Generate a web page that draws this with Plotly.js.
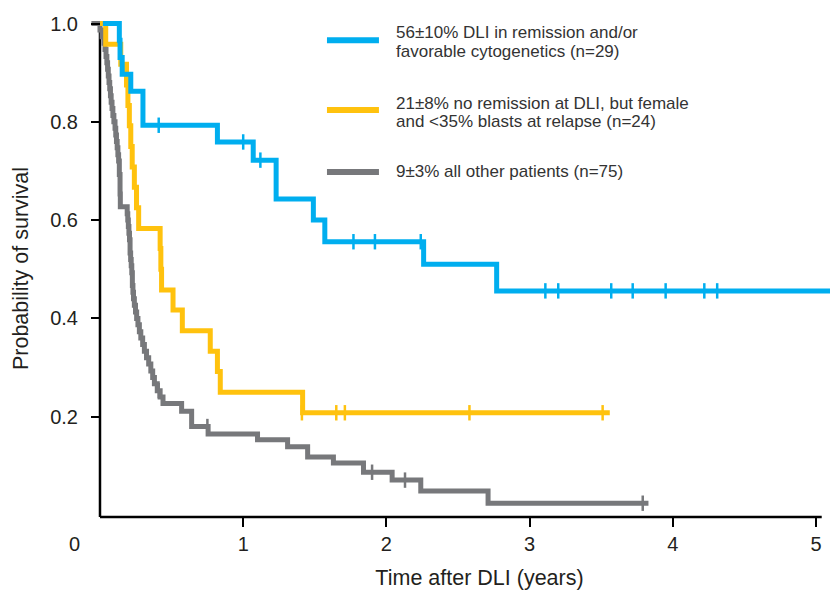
<!DOCTYPE html>
<html>
<head>
<meta charset="utf-8">
<script src="https://cdn.plot.ly/plotly-3.0.1.min.js"></script>
<style>html,body{margin:0;padding:0;background:#fff;overflow:hidden;}#chart{width:874px;height:591px;}</style>
</head>
<body>
<div id="chart"></div>
<script>
// ---- Data ----
const seriesNames = [
  "56±10% DLI in remission and/or<br>favorable cytogenetics (n=29)",
  "21±8% no remission at DLI, but female<br>and <35% blasts at relapse (n=24)",
  "9±3% all other patients (n=75)"
];
const seriesColors = ["#00AEEF", "#FFC20E", "#77787B"];

// Blue: remission and/or favorable cytogenetics
const blueTimes = [0.02, 0.135, 0.14, 0.155, 0.215, 0.30, 0.30, 0.82, 1.07, 1.23, 1.49, 1.57, 2.26, 2.77, 5.12];
const blueSurv  = [1.0, 0.966, 0.931, 0.897, 0.862, 0.828, 0.793, 0.759, 0.722, 0.643, 0.600, 0.556, 0.510, 0.456, 0.456];
const blueCensorTimes = [0.41, 1.00, 1.12, 1.77, 1.92, 2.24, 3.11, 3.20, 3.57, 3.72, 3.95, 4.22, 4.31];
const blueCensorSurv  = [0.793, 0.759, 0.722, 0.556, 0.556, 0.556, 0.456, 0.456, 0.456, 0.456, 0.456, 0.456, 0.456];

// Yellow: no remission, female, <35% blasts
const yellowTimes = [0.0, 0.04, 0.145, 0.185, 0.195, 0.205, 0.215, 0.225, 0.24, 0.255, 0.27, 0.42, 0.425, 0.43, 0.51, 0.575, 0.77, 0.82, 0.84, 1.415, 3.56];
const yellowSurv  = [1.0, 0.958, 0.917, 0.875, 0.833, 0.792, 0.75, 0.708, 0.667, 0.625, 0.583, 0.542, 0.5, 0.458, 0.417, 0.375, 0.333, 0.292, 0.25, 0.208, 0.208];
const yellowCensorTimes = [1.41, 1.65, 1.71, 2.58, 3.51];
const yellowCensorSurv  = [0.208, 0.208, 0.208, 0.208, 0.208];

// Gray: all other patients
const grayTimes = [-0.06, 0.0, 0.015, 0.028, 0.035, 0.042, 0.048, 0.053, 0.058, 0.063, 0.068, 0.073, 0.078, 0.084, 0.09, 0.097,
  0.105, 0.11, 0.115, 0.12, 0.125, 0.13, 0.135, 0.14, 0.142,
  0.19, 0.194, 0.198, 0.202, 0.206, 0.21, 0.214, 0.218, 0.222, 0.226, 0.23, 0.234, 0.24, 0.248, 0.256, 0.265, 0.275, 0.285, 0.298,
  0.31, 0.325, 0.34, 0.355, 0.368, 0.38, 0.40, 0.42, 0.44,
  0.57, 0.64, 0.755, 1.10, 1.31, 1.45, 1.63, 1.84, 2.04, 2.24, 2.71, 3.83];
const graySurv  = [1.0, 0.987, 0.973, 0.96, 0.947, 0.933, 0.92, 0.907, 0.893, 0.88, 0.867, 0.853, 0.84, 0.827, 0.813, 0.80,
  0.787, 0.773, 0.76, 0.747, 0.733, 0.72, 0.693, 0.653, 0.627,
  0.613, 0.60, 0.587, 0.573, 0.56, 0.533, 0.52, 0.507, 0.493, 0.467, 0.453, 0.44, 0.427, 0.413, 0.40, 0.387, 0.373, 0.36, 0.347,
  0.333, 0.32, 0.307, 0.293, 0.28, 0.267, 0.253, 0.24, 0.227,
  0.211, 0.18, 0.165, 0.153, 0.139, 0.118, 0.106, 0.087, 0.071, 0.049, 0.024, 0.024];
const grayCensorTimes = [0.41, 0.75, 1.90, 2.13, 3.79];
const grayCensorSurv  = [0.253, 0.18, 0.087, 0.071, 0.024];

const xTickVals = [1, 2, 3, 4, 5];
const xTickText = ["1", "2", "3", "4", "5"];
const yTickVals = [0.2, 0.4, 0.6, 0.8, 1.0];
const yTickText = ["0.2", "0.4", "0.6", "0.8", "1.0"];
const xTitle = "Time after DLI (years)";
const yTitle = "Probability of survival";
const originLabel = "0";

// ---- Traces ----
function curve(x, y, color) {
  return {x: x, y: y, type: "scatter", mode: "lines", line: {shape: "hv", color: color, width: 5}, hoverinfo: "skip"};
}
function censor(x, y, color) {
  return {x: x, y: y, type: "scatter", mode: "markers", hoverinfo: "skip",
    marker: {symbol: "line-ns", size: 11, color: color, line: {color: color, width: 2.5}}};
}
const data = [
  curve(grayTimes, graySurv, seriesColors[2]),
  censor(grayCensorTimes, grayCensorSurv, seriesColors[2]),
  curve(yellowTimes, yellowSurv, seriesColors[1]),
  censor(yellowCensorTimes, yellowCensorSurv, seriesColors[1]),
  curve(blueTimes, blueSurv, seriesColors[0]),
  censor(blueCensorTimes, blueCensorSurv, seriesColors[0])
];

// ---- Legend (drawn as shapes + annotations) ----
const legendLineY = [0.966, 0.824, 0.698];
const legendTextY = [[0.9827, 0.944], [0.838, 0.80], [0.698]];
const shapes = [
  {type: "line", xref: "x", yref: "y", x0: 0, x1: 0, y0: -0.004, y1: 1.0, layer: "below", line: {color: "#000", width: 2.5}},
  {type: "line", xref: "x", yref: "y", x0: 0, x1: 5.04, y0: -0.004, y1: -0.004, layer: "below", line: {color: "#000", width: 2.5}}
];
const annotations = [
  {xref: "paper", yref: "paper", x: -0.0127, y: -0.0329, text: originLabel, showarrow: false,
   xanchor: "center", yanchor: "middle", font: {size: 20, color: "#231f20"}}
];
for (let i = 0; i < 3; i++) {
  shapes.push({type: "line", xref: "x", yref: "y", x0: 1.585, x1: 1.948, y0: legendLineY[i], y1: legendLineY[i],
    line: {color: seriesColors[i], width: 6}});
  const lines = seriesNames[i].split("<br>");
  for (let j = 0; j < lines.length; j++) {
    annotations.push({xref: "x", yref: "y", x: 2.053, y: legendTextY[i][j], text: lines[j], showarrow: false,
      xanchor: "left", yanchor: "middle", align: "left", font: {size: 17, color: "#333"}});
  }
}

const layout = {
  width: 874, height: 591,
  margin: {l: 85, r: 0, t: 10, b: 64, pad: 0},
  paper_bgcolor: "#fff", plot_bgcolor: "#fff",
  showlegend: false,
  font: {family: "Liberation Sans, Arial, sans-serif", color: "#231f20"},
  xaxis: {
    range: [-0.1047, 5.405], anchor: "free", position: 0.01934,
    tickmode: "array", tickvals: xTickVals, ticktext: xTickText,
    ticks: "outside", ticklen: 9, tickwidth: 2, tickcolor: "#000",
    showgrid: false, zeroline: false, showline: false,
    tickfont: {size: 20, color: "#231f20"},
    title: {text: xTitle, font: {size: 21.5, color: "#231f20"}, standoff: 15},
    fixedrange: true
  },
  yaxis: {
    range: [-0.02441, 1.02747], anchor: "free", position: 0.01901,
    tickmode: "array", tickvals: yTickVals, ticktext: yTickText,
    ticks: "outside", ticklen: 9, tickwidth: 2, tickcolor: "#000",
    ticklabelstandoff: 9,
    showgrid: false, zeroline: false, showline: false,
    tickfont: {size: 20, color: "#231f20"},
    title: {text: yTitle, font: {size: 21.5, color: "#231f20"}, standoff: 14},
    fixedrange: true
  },
  shapes: shapes,
  annotations: annotations
};

Plotly.newPlot("chart", data, layout, {staticPlot: true, displayModeBar: false});
</script>
</body>
</html>
